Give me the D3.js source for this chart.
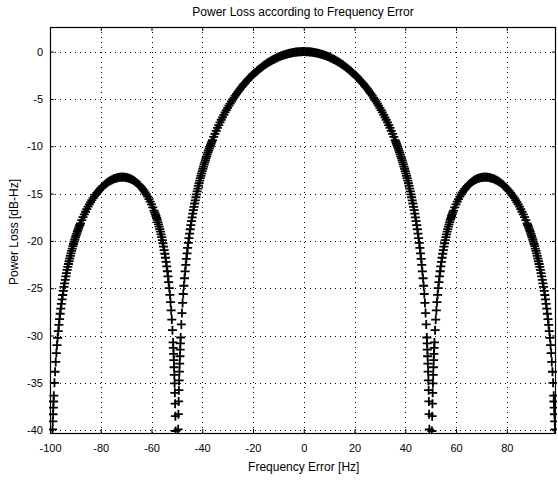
<!DOCTYPE html>
<html>
<head>
<meta charset="utf-8">
<script src="https://cdn.jsdelivr.net/npm/d3@7"></script>
<style>
  body { margin: 0; background: #fff; }
  svg { display: block; font-family: "Liberation Sans", Arial, sans-serif; }
</style>
</head>
<body>
<svg id="chart" width="558" height="481"></svg>
<script>
const chartTitle = "Power Loss according to Frequency Error";
const xLabel = "Frequency Error [Hz]";
const yLabel = "Power Loss [dB-Hz]";
const xTicks = [-100, -80, -60, -40, -20, 0, 20, 40, 60, 80];
const yTicks = [0, -5, -10, -15, -20, -25, -30, -35, -40];

// samples (Hz)
const freqHz = [
  -99, -98.9, -98.8, -98.7, -98.6,
  -98.5, -98.25, -98, -97.75, -97.5, -97.25, -97, -96.75, -96.5, -96.25, -96, -95.75, -95.5, -95.25, -95,
  -94.75, -94.5, -94.25, -94, -93.75, -93.5, -93.25, -93, -92.75, -92.5, -92.25, -92, -91.75, -91.5, -91.25, -91,
  -90.75, -90.5, -90.25, -90, -89.75, -89.5, -89.25, -89, -88.75, -88.5, -88.25, -88,
  -87.5, -87, -86.5, -86, -85.5, -85, -84.5, -84, -83.5, -83, -82.5, -82, -81.5, -81, -80.5, -80, -79.5, -79,
  -78.5, -78, -77.5, -77, -76.5, -76, -75.5, -75, -74.5, -74, -73.5, -73, -72.5, -72, -71.5, -71, -70.5, -70,
  -69.5, -69, -68.5, -68, -67.5, -67, -66.5, -66, -65.5, -65, -64.5, -64, -63.5, -63, -62.5, -62, -61.5, -61,
  -60.5, -60, -59.5,
  -59, -58.75, -58.5, -58.25, -58, -57.75, -57.5, -57.25, -57, -56.75, -56.5, -56.25, -56, -55.75, -55.5, -55.25,
  -55, -54.75, -54.5, -54.25, -54, -53.75, -53.5, -53.25, -53, -52.75, -52.5, -52.25, -52, -51.75, -51.5,
  -51.4, -51.3, -51.2, -51.1, -51, -50.9, -50.8, -50.7, -50.6, -50.5,
  -49.5, -49.4, -49.3, -49.2, -49.1, -49, -48.9, -48.8, -48.7, -48.6,
  -48.5, -48.25, -48, -47.75, -47.5, -47.25, -47, -46.75, -46.5, -46.25, -46, -45.75, -45.5, -45.25, -45,
  -44.75, -44.5, -44.25, -44, -43.75, -43.5, -43.25, -43, -42.75, -42.5, -42.25, -42, -41.75, -41.5, -41.25, -41,
  -40.75, -40.5, -40.25, -40, -39.75, -39.5, -39.25, -39, -38.75, -38.5, -38.25, -38, -37.75, -37.5, -37.25, -37,
  -36.75, -36.5, -36.25,
  -36, -35.5, -35, -34.5, -34, -33.5, -33, -32.5, -32, -31.5, -31, -30.5, -30, -29.5, -29, -28.5, -28, -27.5,
  -27, -26.5, -26, -25.5, -25, -24.5, -24, -23.5, -23, -22.5, -22, -21.5, -21, -20.5, -20, -19.5, -19, -18.5,
  -18, -17.5, -17, -16.5, -16, -15.5, -15, -14.5, -14, -13.5, -13, -12.5, -12, -11.5, -11, -10.5, -10, -9.5,
  -9, -8.5, -8, -7.5, -7, -6.5, -6, -5.5, -5, -4.5, -4, -3.5, -3, -2.5, -2, -1.5, -1, -0.5,
  0,
  0.5, 1, 1.5, 2, 2.5, 3, 3.5, 4, 4.5, 5, 5.5, 6, 6.5, 7, 7.5, 8, 8.5, 9,
  9.5, 10, 10.5, 11, 11.5, 12, 12.5, 13, 13.5, 14, 14.5, 15, 15.5, 16, 16.5, 17, 17.5, 18,
  18.5, 19, 19.5, 20, 20.5, 21, 21.5, 22, 22.5, 23, 23.5, 24, 24.5, 25, 25.5, 26, 26.5, 27,
  27.5, 28, 28.5, 29, 29.5, 30, 30.5, 31, 31.5, 32, 32.5, 33, 33.5, 34, 34.5, 35, 35.5, 36,
  36.25, 36.5, 36.75,
  37, 37.25, 37.5, 37.75, 38, 38.25, 38.5, 38.75, 39, 39.25, 39.5, 39.75, 40, 40.25, 40.5, 40.75,
  41, 41.25, 41.5, 41.75, 42, 42.25, 42.5, 42.75, 43, 43.25, 43.5, 43.75, 44, 44.25, 44.5, 44.75,
  45, 45.25, 45.5, 45.75, 46, 46.25, 46.5, 46.75, 47, 47.25, 47.5, 47.75, 48, 48.25, 48.5,
  48.6, 48.7, 48.8, 48.9, 49, 49.1, 49.2, 49.3, 49.4, 49.5,
  50.5, 50.6, 50.7, 50.8, 50.9, 51, 51.1, 51.2, 51.3, 51.4,
  51.5, 51.75, 52, 52.25, 52.5, 52.75, 53, 53.25, 53.5, 53.75, 54, 54.25, 54.5, 54.75, 55,
  55.25, 55.5, 55.75, 56, 56.25, 56.5, 56.75, 57, 57.25, 57.5, 57.75, 58, 58.25, 58.5, 58.75, 59,
  59.5, 60, 60.5,
  61, 61.5, 62, 62.5, 63, 63.5, 64, 64.5, 65, 65.5, 66, 66.5, 67, 67.5, 68, 68.5, 69, 69.5,
  70, 70.5, 71, 71.5, 72, 72.5, 73, 73.5, 74, 74.5, 75, 75.5, 76, 76.5, 77, 77.5, 78, 78.5,
  79, 79.5, 80, 80.5, 81, 81.5, 82, 82.5, 83, 83.5, 84, 84.5, 85, 85.5, 86, 86.5, 87, 87.5,
  88, 88.25, 88.5, 88.75, 89, 89.25, 89.5, 89.75, 90, 90.25, 90.5, 90.75,
  91, 91.25, 91.5, 91.75, 92, 92.25, 92.5, 92.75, 93, 93.25, 93.5, 93.75, 94, 94.25, 94.5, 94.75,
  95, 95.25, 95.5, 95.75, 96, 96.25, 96.5, 96.75, 97, 97.25, 97.5, 97.75, 98, 98.25, 98.5,
  98.6, 98.7, 98.8, 98.9, 99
];

// power loss at each sample (dB)
const lossDb = [
  -39.92, -39.08, -38.32, -37.62, -36.97,
  -36.36, -35.00, -33.83, -32.79, -31.86, -31.01, -30.24, -29.54, -28.88, -28.27, -27.70, -27.16, -26.65, -26.17, -25.72,
  -25.29, -24.87, -24.48, -24.11, -23.75, -23.40, -23.07, -22.75, -22.44, -22.15, -21.86, -21.58, -21.32, -21.06, -20.81, -20.56,
  -20.33, -20.10, -19.88, -19.66, -19.46, -19.25, -19.05, -18.86, -18.68, -18.49, -18.32, -18.14,
  -17.81, -17.50, -17.20, -16.92, -16.65, -16.39, -16.15, -15.92, -15.70, -15.49, -15.29, -15.11, -14.93, -14.77, -14.61, -14.46, -14.32, -14.19,
  -14.07, -13.96, -13.86, -13.76, -13.68, -13.60, -13.53, -13.46, -13.41, -13.37, -13.33, -13.30, -13.28, -13.27, -13.26, -13.27, -13.28, -13.30,
  -13.33, -13.37, -13.42, -13.48, -13.55, -13.63, -13.72, -13.82, -13.94, -14.06, -14.20, -14.35, -14.52, -14.70, -14.89, -15.10, -15.33, -15.58,
  -15.85, -16.14, -16.46,
  -16.80, -16.98, -17.17, -17.37, -17.58, -17.79, -18.02, -18.25, -18.50, -18.76, -19.03, -19.31, -19.61, -19.92, -20.25, -20.60,
  -20.97, -21.36, -21.78, -22.22, -22.70, -23.21, -23.76, -24.35, -24.99, -25.70, -26.48, -27.35, -28.32, -29.44, -30.73,
  -31.31, -31.93, -32.61, -33.35, -34.16, -35.05, -36.06, -37.20, -38.52, -40.09,
  -39.91, -38.31, -36.96, -35.78, -34.74, -33.81, -32.97, -32.19, -31.48, -30.82,
  -30.21, -28.83, -27.63, -26.56, -25.61, -24.74, -23.95, -23.22, -22.54, -21.90, -21.31, -20.74, -20.21, -19.71, -19.23,
  -18.77, -18.33, -17.92, -17.51, -17.13, -16.75, -16.40, -16.05, -15.71, -15.39, -15.08, -14.77, -14.48, -14.19, -13.91, -13.64,
  -13.37, -13.12, -12.87, -12.62, -12.38, -12.15, -11.92, -11.70, -11.48, -11.26, -11.06, -10.85, -10.65, -10.45, -10.26, -10.07,
  -9.89, -9.71, -9.53,
  -9.35, -9.01, -8.69, -8.37, -8.06, -7.77, -7.48, -7.20, -6.94, -6.68, -6.42, -6.18, -5.94, -5.71, -5.49, -5.27, -5.06, -4.86,
  -4.66, -4.47, -4.28, -4.10, -3.92, -3.75, -3.58, -3.42, -3.27, -3.11, -2.97, -2.82, -2.69, -2.55, -2.42, -2.29, -2.17, -2.05,
  -1.94, -1.83, -1.72, -1.62, -1.52, -1.42, -1.33, -1.24, -1.15, -1.07, -0.99, -0.91, -0.84, -0.77, -0.70, -0.64, -0.58, -0.52,
  -0.47, -0.42, -0.37, -0.32, -0.28, -0.24, -0.21, -0.17, -0.14, -0.12, -0.09, -0.07, -0.05, -0.04, -0.02, -0.01, -0.01, 0,
  0,
  0, -0.01, -0.01, -0.02, -0.04, -0.05, -0.07, -0.09, -0.12, -0.14, -0.17, -0.21, -0.24, -0.28, -0.32, -0.37, -0.42, -0.47,
  -0.52, -0.58, -0.64, -0.70, -0.77, -0.84, -0.91, -0.99, -1.07, -1.15, -1.24, -1.33, -1.42, -1.52, -1.62, -1.72, -1.83, -1.94,
  -2.05, -2.17, -2.29, -2.42, -2.55, -2.69, -2.82, -2.97, -3.11, -3.27, -3.42, -3.58, -3.75, -3.92, -4.10, -4.28, -4.47, -4.66,
  -4.86, -5.06, -5.27, -5.49, -5.71, -5.94, -6.18, -6.42, -6.68, -6.94, -7.20, -7.48, -7.77, -8.06, -8.37, -8.69, -9.01, -9.35,
  -9.53, -9.71, -9.89,
  -10.07, -10.26, -10.45, -10.65, -10.85, -11.06, -11.26, -11.48, -11.70, -11.92, -12.15, -12.38, -12.62, -12.87, -13.12, -13.37,
  -13.64, -13.91, -14.19, -14.48, -14.77, -15.08, -15.39, -15.71, -16.05, -16.40, -16.75, -17.13, -17.51, -17.92, -18.33, -18.77,
  -19.23, -19.71, -20.21, -20.74, -21.31, -21.90, -22.54, -23.22, -23.95, -24.74, -25.61, -26.56, -27.63, -28.83, -30.21,
  -30.82, -31.48, -32.19, -32.97, -33.81, -34.74, -35.78, -36.96, -38.31, -39.91,
  -40.09, -38.52, -37.20, -36.06, -35.05, -34.16, -33.35, -32.61, -31.93, -31.31,
  -30.73, -29.44, -28.32, -27.35, -26.48, -25.70, -24.99, -24.35, -23.76, -23.21, -22.70, -22.22, -21.78, -21.36, -20.97,
  -20.60, -20.25, -19.92, -19.61, -19.31, -19.03, -18.76, -18.50, -18.25, -18.02, -17.79, -17.58, -17.37, -17.17, -16.98, -16.80,
  -16.46, -16.14, -15.85,
  -15.58, -15.33, -15.10, -14.89, -14.70, -14.52, -14.35, -14.20, -14.06, -13.94, -13.82, -13.72, -13.63, -13.55, -13.48, -13.42, -13.37, -13.33,
  -13.30, -13.28, -13.27, -13.26, -13.27, -13.28, -13.30, -13.33, -13.37, -13.41, -13.46, -13.53, -13.60, -13.68, -13.76, -13.86, -13.96, -14.07,
  -14.19, -14.32, -14.46, -14.61, -14.77, -14.93, -15.11, -15.29, -15.49, -15.70, -15.92, -16.15, -16.39, -16.65, -16.92, -17.20, -17.50, -17.81,
  -18.14, -18.32, -18.49, -18.68, -18.86, -19.05, -19.25, -19.46, -19.66, -19.88, -20.10, -20.33,
  -20.56, -20.81, -21.06, -21.32, -21.58, -21.86, -22.15, -22.44, -22.75, -23.07, -23.40, -23.75, -24.11, -24.48, -24.87, -25.29,
  -25.72, -26.17, -26.65, -27.16, -27.70, -28.27, -28.88, -29.54, -30.24, -31.01, -31.86, -32.79, -33.83, -35.00, -36.36,
  -36.97, -37.62, -38.32, -39.08, -39.92
];

const width = 558, height = 481;
const margin = { top: 27, right: 2, bottom: 48, left: 50 };
const plotW = width - margin.left - margin.right;
const plotH = height - margin.top - margin.bottom;

const svg = d3.select("#chart");
svg.append("rect").attr("width", width).attr("height", height).attr("fill", "#fff");

const g = svg.append("g").attr("transform", "translate(" + margin.left + "," + margin.top + ")");

const x = d3.scaleLinear().domain([-100, 99.4]).range([0, plotW]);
const y = d3.scaleLinear().domain([-40.3, 2.6]).range([plotH, 0]);

// dotted grid
g.append("g")
  .selectAll("line.vgrid")
  .data(xTicks)
  .enter()
  .append("line")
  .attr("x1", d => Math.round(x(d)) + 0.5).attr("x2", d => Math.round(x(d)) + 0.5)
  .attr("y1", 0).attr("y2", plotH)
  .attr("stroke", "#000")
  .attr("stroke-width", 1)
  .attr("stroke-dasharray", "1,4");

g.append("g")
  .selectAll("line.hgrid")
  .data(yTicks)
  .enter()
  .append("line")
  .attr("x1", 0).attr("x2", plotW)
  .attr("y1", d => Math.round(y(d)) + 0.5).attr("y2", d => Math.round(y(d)) + 0.5)
  .attr("stroke", "#000")
  .attr("stroke-width", 1)
  .attr("stroke-dasharray", "1,4");

// axes, ticks pointing inward like the original
const fmt = d => String(d);

g.append("g")
  .attr("transform", "translate(0," + plotH + ")")
  .call(d3.axisBottom(x).tickValues(xTicks).tickFormat(fmt).tickSizeInner(-4).tickSizeOuter(0).tickPadding(11));

g.append("g")
  .call(d3.axisLeft(y).tickValues(yTicks).tickFormat(fmt).tickSizeInner(-4).tickSizeOuter(0).tickPadding(7));

g.append("g")
  .call(d3.axisTop(x).tickValues(xTicks).tickFormat("").tickSizeInner(-4).tickSizeOuter(0));

g.append("g")
  .attr("transform", "translate(" + plotW + ",0)")
  .call(d3.axisRight(y).tickValues(yTicks).tickFormat("").tickSizeInner(-4).tickSizeOuter(0));

g.selectAll(".domain").remove();
g.selectAll(".tick line").attr("stroke", "#000");
g.selectAll(".tick text").attr("fill", "#000").style("font-size", "11px");

// box
g.append("rect")
  .attr("x", 0.5).attr("y", 0.5)
  .attr("width", plotW - 1).attr("height", plotH)
  .attr("fill", "none").attr("stroke", "#000").attr("stroke-width", 1.2);

// markers
g.append("clipPath").attr("id", "plotClip")
  .append("rect").attr("x", -1).attr("y", -1).attr("width", plotW + 2).attr("height", plotH + 2);

const points = freqHz.map((f, i) => ({ f: f, v: lossDb[i] }));

g.append("g")
  .attr("clip-path", "url(#plotClip)")
  .selectAll("path")
  .data(points)
  .enter()
  .append("path")
  .attr("transform", d => "translate(" + x(d.f) + "," + y(d.v) + ")")
  .attr("d", "M-4.5,0H4.5M0,-4.5V4.5")
  .attr("stroke", "#000")
  .attr("stroke-width", 1.8)
  .attr("fill", "none");

// labels
svg.append("text")
  .attr("x", 303).attr("y", 16)
  .attr("text-anchor", "middle")
  .style("font-size", "12px")
  .text(chartTitle);

svg.append("text")
  .attr("x", margin.left + x(0)).attr("y", 471)
  .attr("text-anchor", "middle")
  .style("font-size", "12px")
  .text(xLabel);

svg.append("text")
  .attr("transform", "translate(18,232) rotate(-90)")
  .attr("text-anchor", "middle")
  .style("font-size", "12px")
  .text(yLabel);
</script>
</body>
</html>
